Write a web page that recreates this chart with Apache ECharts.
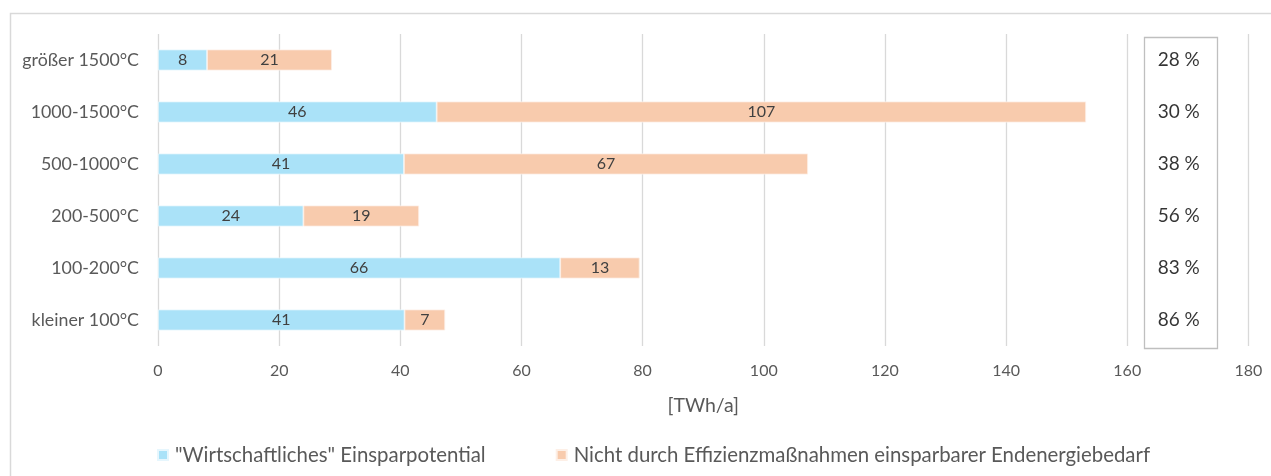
<!DOCTYPE html>
<html>
<head>
<meta charset="utf-8">
<script src="https://cdn.jsdelivr.net/npm/echarts@6/dist/echarts.min.js"></script>
<style>html,body{margin:0;padding:0;background:#fff}#c{width:1271px;height:476px}</style>
</head>
<body>
<div id="c"></div>
<script>
const categories = ['kleiner 100°C', '100-200°C', '200-500°C', '500-1000°C', '1000-1500°C', 'größer 1500°C'];
const seriesNames = ['"Wirtschaftliches" Einsparpotential', 'Nicht durch Effizienzmaßnahmen einsparbarer Endenergiebedarf'];
const savings = [40.7, 66.4, 24.0, 40.6, 46.0, 8.1];
const remaining = [6.7, 13.1, 19.1, 66.7, 107.2, 20.6];
const shares = ['86 %', '83 %', '56 %', '38 %', '30 %', '28 %'];
const shareX = 168.5;
const xTicks = { min: 0, max: 180, interval: 20 };

const FONT = 'Lato, "Open Sans", sans-serif';
const chart = echarts.init(document.getElementById('c'), null, { renderer: 'canvas' });
chart.setOption({
  animation: false,
  textStyle: { fontFamily: FONT },
  grid: { left: 158, right: 22.6, top: 34, bottom: 130, containLabel: false },
  xAxis: {
    type: 'value', min: xTicks.min, max: xTicks.max, interval: xTicks.interval,
    name: '[TWh/a]', nameLocation: 'middle', nameGap: 50,
    nameTextStyle: { color: '#595959', fontSize: 19.5, fontFamily: FONT },
    axisLine: { show: false }, axisTick: { show: false },
    axisLabel: { color: '#595959', fontSize: 16, margin: 17, fontFamily: FONT },
    splitLine: { show: true, lineStyle: { color: '#D9D9D9', width: 1.3 } }
  },
  yAxis: {
    type: 'category', data: categories,
    axisLine: { show: false }, axisTick: { show: false },
    axisLabel: { color: '#595959', fontSize: 17.8, margin: 19, fontFamily: FONT }
  },
  legend: {
    bottom: 6, left: 152, itemWidth: 10, itemHeight: 10, itemGap: 70,
    icon: 'rect',
    textStyle: { color: '#595959', fontSize: 20.4, fontFamily: FONT, padding: [0, 0, 0, 2] },
    data: seriesNames
  },
  series: [
    {
      name: seriesNames[0], type: 'bar', stack: 'a', data: savings, barWidth: 21,
      itemStyle: { color: '#AAE2F8', borderColor: '#E6F6FD', borderWidth: 0.8 },
      label: { show: true, position: 'inside', color: '#404040', fontSize: 16, fontFamily: FONT,
        formatter: p => Math.round(p.value) }
    },
    {
      name: seriesNames[1], type: 'bar', stack: 'a', data: remaining, barWidth: 21,
      itemStyle: { color: '#F8CBAD', borderColor: '#FDEFE6', borderWidth: 0.8 },
      label: { show: true, position: 'inside', color: '#404040', fontSize: 16, fontFamily: FONT,
        formatter: p => Math.round(p.value) }
    },
    {
      name: 'shares', type: 'scatter', symbolSize: 0, silent: true,
      data: categories.map((c, i) => [shareX, c, shares[i]]),
      label: { show: true, position: 'inside', color: '#000', fontSize: 19, fontFamily: FONT,
        formatter: p => p.data[2] }
    }
  ],
  graphic: [
    { type: 'rect', shape: { x: 10.5, y: 13.5, width: 1300, height: 500 }, style: { fill: 'none', stroke: '#D9D9D9', lineWidth: 1.5 }, silent: true },
    { type: 'rect', shape: { x: 1144.5, y: 37.5, width: 73, height: 311 }, style: { fill: '#fff', stroke: '#BFBFBF', lineWidth: 1.3 }, z: 1, silent: true }
  ]
});
</script>
</body>
</html>
